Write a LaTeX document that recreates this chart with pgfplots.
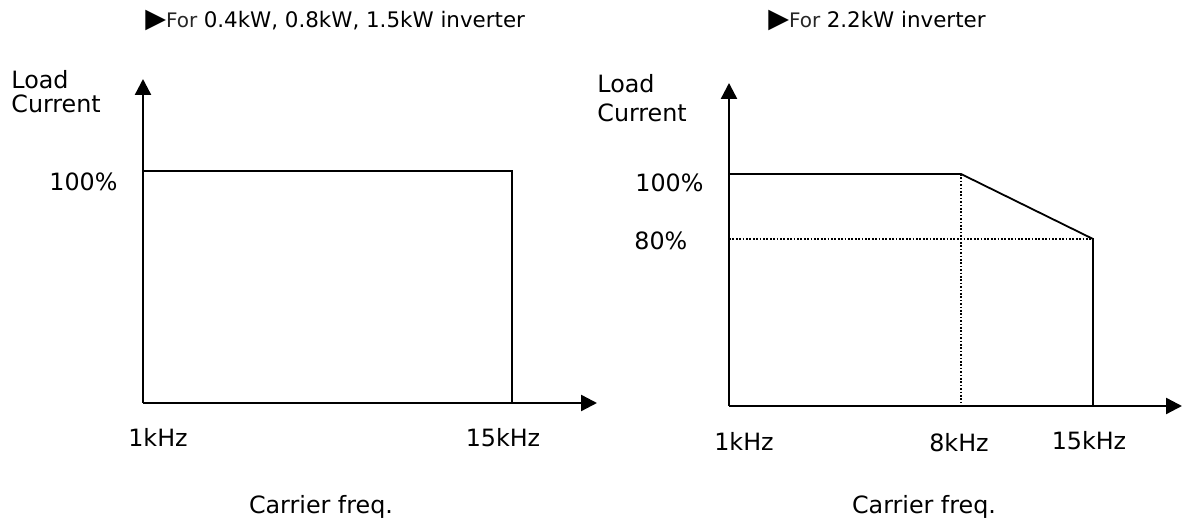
\documentclass[border=0pt]{standalone}
\usepackage{pgfplots}
\pgfplotsset{compat=1.18}
\usepackage{fontspec}
\setmainfont{DejaVu Sans}
\usetikzlibrary{arrows.meta}
\begin{document}
\fontsize{11.9pt}{14pt}\selectfont
\begin{tikzpicture}
\useasboundingbox (0,0) rectangle (591.5pt,262pt);
\pgfplotsset{
  derate/.style={
    scale only axis,
    anchor=south west,
    axis lines=left,
    xtick=\empty, ytick=\empty,
    clip=true,
  },
  arrowlines/.style={
    every outer x axis line/.append style={line width=1.2pt,-{Triangle[length=8pt,width=8pt]}},
    every outer y axis line/.append style={line width=1.2pt,-{Triangle[length=8pt,width=8pt]}},
    axis line style={line width=1.2pt},
  }
}
% Left panel: 0.4 / 0.8 / 1.5 kW
\begin{axis}[derate, at={(71.5pt,60.5pt)}, width=227pt, height=162pt,
  xmin=1, xmax=18.225, ymin=0, ymax=139.66, arrowlines]
\addplot[black, line width=0.65pt] coordinates {(1,100) (15,100) (15,0)};
\end{axis}
% Right panel: 2.2 kW
\begin{axis}[derate, at={(364.5pt,59pt)}, width=226.5pt, height=161.5pt,
  x coord trafo/.code={\pgfmathparse{(#1<8)?((#1-1)*232/7):(232+(#1-8)*132/7)}},
  xmin=1, xmax=19.72, ymin=28.6, ymax=128, arrowlines]
\addplot[black, line width=0.85pt, dash pattern=on 0.85pt off 0.85pt] coordinates {(1,80) (15,80)};
\addplot[black, line width=0.85pt, dash pattern=on 0.85pt off 0.85pt] coordinates {(8,100) (8,0)};
\addplot[black, line width=0.9pt] coordinates {(1,100) (8,100) (15,80) (15,0)};
\end{axis}
% titles
\node[anchor=base west, inner sep=0pt] at (72.5pt,248pt) {\fontsize{13.5pt}{14pt}\selectfont▶\fontsize{10pt}{12pt}\selectfont\textcolor{black!85}{For} \fontsize{10.7pt}{12pt}\selectfont 0.4kW, 0.8kW, 1.5kW inverter};
\node[anchor=base west, inner sep=0pt] at (384pt,248pt) {\fontsize{13.5pt}{14pt}\selectfont▶\fontsize{10pt}{12pt}\selectfont\textcolor{black!85}{For} \fontsize{10.7pt}{12pt}\selectfont 2.2kW inverter};
% y labels
\node[anchor=base west, inner sep=0pt] at (5.5pt,217.75pt) {Load};
\node[anchor=base west, inner sep=0pt] at (5.5pt,205.75pt) {Current};
\node[anchor=base west, inner sep=0pt] at (298.5pt,215.65pt) {Load};
\node[anchor=base west, inner sep=0pt] at (298.5pt,201.15pt) {Current};
% y tick labels
\node[anchor=base west, inner sep=0pt] at (24.5pt,166.65pt) {100\%};
\node[anchor=base west, inner sep=0pt] at (317.5pt,166.15pt) {100\%};
\node[anchor=base west, inner sep=0pt] at (317pt,137.15pt) {80\%};
% x tick labels
\node[anchor=base, inner sep=0pt] at (79pt,38.65pt) {1kHz};
\node[anchor=base, inner sep=0pt] at (251.5pt,38.65pt) {15kHz};
\node[anchor=base, inner sep=0pt] at (372pt,36.65pt) {1kHz};
\node[anchor=base, inner sep=0pt] at (479.5pt,36.15pt) {8kHz};
\node[anchor=base, inner sep=0pt] at (544.5pt,37.15pt) {15kHz};
% x labels
\node[anchor=base, inner sep=0pt] at (160.5pt,5pt) {Carrier freq.};
\node[anchor=base, inner sep=0pt] at (462pt,5pt) {Carrier freq.};
\end{tikzpicture}
\end{document}
